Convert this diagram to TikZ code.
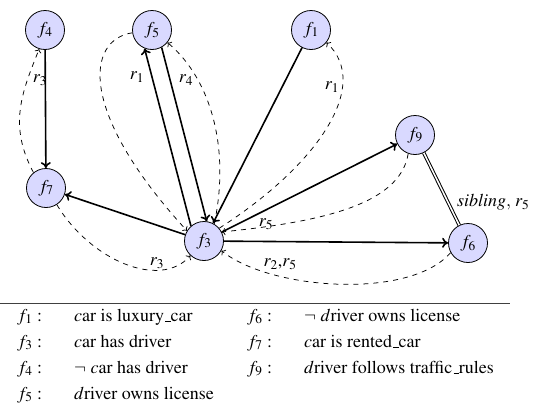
\documentclass[tikz,border=0pt]{standalone}
\usepackage[OT1]{fontenc}
\usepackage{mathptmx}
\usetikzlibrary{arrows.meta}
\begin{document}
\begin{tikzpicture}[x=1pt,y=-1pt,
  fnode/.style={circle, draw, line width=0.8pt, fill=blue!15, minimum size=39pt, inner sep=0pt, font=\fontsize{18}{22}\selectfont},
  solidedge/.style={line width=1.6pt, -{To[length=6pt,width=10pt]}},
  dashedge/.style={line width=0.75pt, dash pattern=on 5pt off 5pt, -{To[length=3.5pt,width=7pt]}},
  lbl/.style={inner sep=0pt, font=\fontsize{18}{22}\selectfont},
  tbl/.style={inner sep=0pt, anchor=base west, font=\fontsize{18}{22}\selectfont}]
\useasboundingbox (0,0) rectangle (533,410);
% nodes
\node[fnode] (f4) at (45,30) {$f_4$};
\node[fnode] (f5) at (152,30) {$f_5$};
\node[fnode] (f1) at (311,30) {$f_1$};
\node[fnode] (f7) at (46,188) {$f_7$};
\node[fnode] (f3) at (204,241) {$f_3$};
\node[fnode] (f9) at (415,135) {$f_9$};
\node[fnode] (f6) at (468,243) {$f_6$};
% solid edges
\draw[solidedge] (f4) -- (f7);
\draw[solidedge] (f3.131) -- (f5.-112);
\draw[solidedge] (f5.-61) -- (f3.82);
\draw[solidedge] (f1) -- (f3);
\draw[solidedge] (f3) -- (f7);
\draw[solidedge] (f3) -- (f9);
\draw[solidedge] (f3) -- (f6);
\draw[line width=1pt, double, double distance=1.5pt] (f9) -- (f6);
% dashed edges
\draw[dashedge] (f7.129) .. controls (8,125) and (22,92) .. (f4.-107);
\draw[dashedge] (f5.188) .. controls (86,40) and (78,112) .. (f3.149);
\draw[dashedge] (f3.59) .. controls (230,150) and (212,80) .. (f5.-39);
\draw[dashedge] (f3.40) .. controls (318,165) and (372,85) .. (f1.-39);
\draw[dashedge] (f9.-110) .. controls (400,205) and (320,222) .. (f3.27);
\draw[dashedge] (f6.209) .. controls (410,300) and (270,290) .. (f3.-29);
\draw[dashedge] (f7.-57) .. controls (90,260) and (160,290) .. (f3.-133);
% labels
\node[lbl] (l1) at (40,80) {$r_3$};
\node[lbl] (l2) at (137,77) {$r_1$};
\node[lbl] (l3) at (186,80) {$r_4$};
\node[lbl] (l4) at (157,263) {$r_3$};
\node[lbl] (l5) at (332,87) {$r_1$};
\node[lbl] (l6) at (266,224) {$r_5$};
\node[lbl] (l7) at (280,264) {$r_2$,$r_5$};
\node[lbl, anchor=west] (l8) at (457,202) {$\mathit{sibling},\, r_5$};
% table
\draw[line width=1pt, black!75] (0,303) -- (510,303);
\node[tbl] (t1a) at (17,321) {$f_1$ :};
\node[tbl] (t1b) at (74,321) {$c$ar is luxury\_car};
\node[tbl] (t3a) at (17,347) {$f_3$ :};
\node[tbl] (t3b) at (74,347) {$c$ar has driver};
\node[tbl] (t4a) at (17,373) {$f_4$ :};
\node[tbl] (t4b) at (74,373) {$\neg$ $c$ar has driver};
\node[tbl] (t5a) at (17,399) {$f_5$ :};
\node[tbl] (t5b) at (74,399) {$d$river owns license};
\node[tbl] (t6a) at (247,321) {$f_6$ :};
\node[tbl] (t6b) at (304,321) {$\neg$ $d$river owns license};
\node[tbl] (t7a) at (247,347) {$f_7$ :};
\node[tbl] (t7b) at (304,347) {$c$ar is rented\_car};
\node[tbl] (t9a) at (247,373) {$f_9$ :};
\node[tbl] (t9b) at (304,373) {$d$river follows traffic\_rules};
\end{tikzpicture}
\end{document}
